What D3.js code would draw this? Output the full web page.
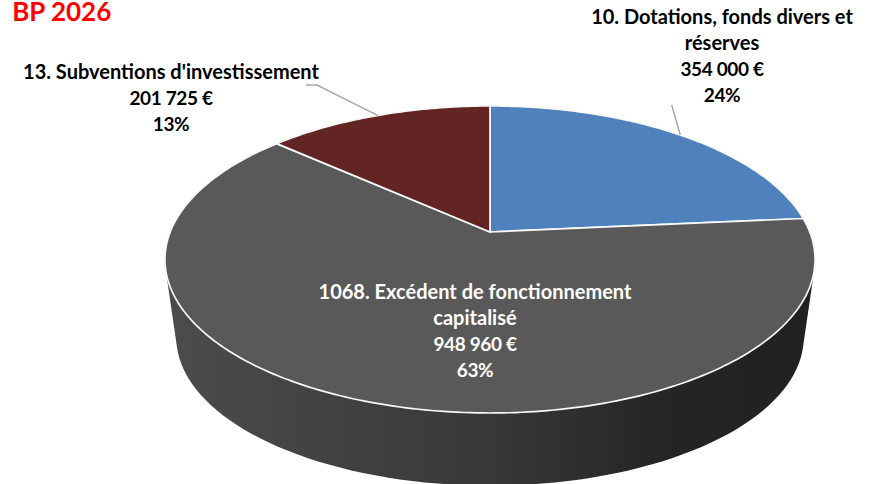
<!DOCTYPE html>
<html>
<head>
<title>BP 2026</title>
<script src="https://d3js.org/d3.v7.min.js"></script>
<style>
body, html {
  margin: 0;
  padding: 0;
  background: #fff;
}
svg {
  display: block;
}
text {
  font-family: Lato, sans-serif;
  font-weight: 700;
  text-anchor: middle;
}
</style>
</head>
<body>
<svg id="chart" width="873" height="484" viewBox="0 0 873 484"></svg>
<script>
const values = [354000, 948960, 201725];
const sliceColors = ["#4f81bd", "#595959", "#632523"];
const labelLines = [
  ["10. Dotations, fonds divers et", "réserves", "354 000 €", "24%"],
  ["1068. Excédent de fonctionnement", "capitalisé", "948 960 €", "63%"],
  ["13. Subventions d'investissement", "201 725 €", "13%"]
];

const svg = d3.select("#chart");

// tilted disc: circle coordinates go through a perspective map
const cx = 490, cy = 232;
const persp = -0.179;
function project(angle, scale, drop) {
  const u = Math.sin(angle), v = -Math.cos(angle);
  const w = 1 + persp * v;
  return [cx + 319.8 * scale * u / w, cy + drop + 148.6 * scale * v / w];
}

const pie = d3.pie().sort(null).value(d => d);
const slices = pie(values);

// side wall
const ring = d3.range(0, 360, 2).map(d => d * Math.PI / 180);
const hull = d3.polygonHull(ring.map(a => project(a, 1, 0)).concat(ring.map(a => project(a, 0.965, 79))));

const grad = svg.append("defs").append("linearGradient")
  .attr("id", "wall").attr("x1", 0).attr("x2", 1).attr("y1", 0).attr("y2", 0);
grad.append("stop").attr("offset", "0%").attr("stop-color", "#4c4c4c");
grad.append("stop").attr("offset", "50%").attr("stop-color", "#383838");
grad.append("stop").attr("offset", "78%").attr("stop-color", "#242424");
grad.append("stop").attr("offset", "100%").attr("stop-color", "#212121");

svg.append("path")
  .attr("d", "M" + hull.join("L") + "Z")
  .attr("fill", "url(#wall)");

// top face
const facePath = function(d) {
  const n = Math.ceil((d.endAngle - d.startAngle) * 60);
  const pts = d3.range(n + 1).map(i => project(d.startAngle + (d.endAngle - d.startAngle) * i / n, 1, 0));
  return "M" + cx + "," + cy + "L" + pts.join("L") + "Z";
};

svg.selectAll("path.slice")
  .data(slices)
  .join("path")
  .attr("class", "slice")
  .attr("d", facePath)
  .attr("fill", (d, i) => sliceColors[i])
  .attr("stroke", "#f8f8f8")
  .attr("stroke-width", 1.7)
  .attr("stroke-linejoin", "round");

// leader lines
const leaderStarts = [[[671.7, 105]], null, [[306, 85], [317, 85]]];
slices.forEach((d, i) => {
  if (!leaderStarts[i]) return;
  const end = project((d.startAngle + d.endAngle) / 2, 1, 0);
  svg.append("path")
    .attr("d", "M" + leaderStarts[i].concat([end]).join("L"))
    .attr("fill", "none")
    .attr("stroke", "#a6a6a6")
    .attr("stroke-width", 1.4);
});

// labels
const labelX = [722, 475, 171];
const labelY = [24, 299, 79];
labelLines.forEach((lines, i) => {
  const t = svg.append("text")
    .attr("fill", i === 1 ? "#fff" : "#000");
  lines.forEach((s, j) => {
    // digits run wide in this font, tighten the amount and percent lines
    const numeric = /[€%]$/.test(s);
    t.append("tspan")
      .attr("x", labelX[i])
      .attr("y", labelY[i] + j * 26.1)
      .attr("font-size", numeric ? 19 : 20)
      .attr("letter-spacing", numeric ? -0.35 : 0)
      .text(s);
  });
});

svg.append("text")
  .attr("x", 61.7)
  .attr("y", 20.5)
  .attr("font-size", 26)
  .attr("fill", "#ff0000")
  .text("BP 2026");
</script>
</body>
</html>
